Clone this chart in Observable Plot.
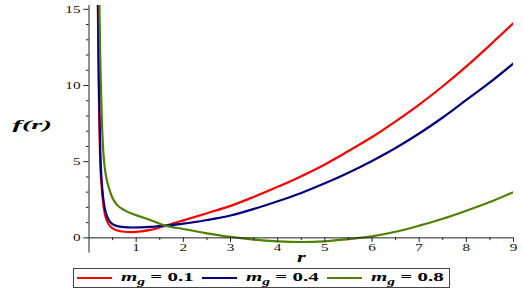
<!DOCTYPE html>
<html><head><meta charset="utf-8">
<script src="https://cdn.jsdelivr.net/npm/d3@7"></script>
<script src="https://cdn.jsdelivr.net/npm/@observablehq/plot@0.6"></script>
<style>
body{margin:0;background:#fff;}
#wrap{position:relative;width:523px;height:294px;overflow:hidden;}
#wrap svg{display:block;}
#legend{position:absolute;left:73px;top:268px;width:375px;height:18px;border:1px solid #444;box-sizing:content-box;background:#fff;}
.item{position:absolute;top:0;height:18px;}
.sw{position:absolute;top:8px;width:35px;height:2px;}
.lab{position:absolute;top:0px;font-family:"Liberation Serif",serif;font-weight:bold;font-size:13.5px;line-height:16px;white-space:nowrap;transform:scaleX(1.55);transform-origin:left center;}
.lab sub{font-size:10px;vertical-align:-4px;line-height:0;}
</style></head><body><div id="wrap"></div>
<script>
const rVals  = [0.17, 0.19, 0.21, 0.24, 0.27, 0.3, 0.33, 0.37, 0.42, 0.5, 0.6, 0.75, 0.9, 1.1, 1.3, 1.6, 2, 2.5, 3, 3.5, 4, 4.5, 5, 5.5, 6, 6.5, 7, 7.5, 8, 8.5, 9];
const fRed   = [20, 14.5, 9.2, 4.8, 3.3, 2.3, 1.65, 1.2, 0.88, 0.62, 0.48, 0.4, 0.38, 0.42, 0.52, 0.78, 1.15, 1.62, 2.1, 2.7, 3.35, 4.05, 4.82, 5.7, 6.62, 7.65, 8.75, 9.95, 11.25, 12.65, 14.1];
const fBlue  = [21, 15.5, 10.2, 5.6, 3.7, 2.65, 2.0, 1.52, 1.17, 0.9, 0.77, 0.7, 0.68, 0.69, 0.72, 0.8, 0.93, 1.17, 1.47, 1.9, 2.4, 2.95, 3.58, 4.28, 5.05, 5.9, 6.85, 7.9, 9.05, 10.2, 11.45];
const fGreen = [30, 22, 17.5, 11.5, 8.0, 5.8, 4.7, 3.9, 3.3, 2.6, 2.15, 1.82, 1.6, 1.38, 1.17, 0.82, 0.58, 0.3, 0.06, -0.12, -0.23, -0.27, -0.23, -0.08, 0.1, 0.4, 0.8, 1.25, 1.78, 2.35, 3.0];
const seriesNames  = ["0.1", "0.4", "0.8"];
const seriesColors = ["#ff0000", "#00007f", "#4f8000"];
const yMajor = [0, 5, 10, 15];
const yMinor = [1, 2, 3, 4, 6, 7, 8, 9, 11, 12, 13, 14];
const xMajor = [1, 2, 3, 4, 5, 6, 7, 8, 9];
const xMinor = [0.5, 1.5, 2.5, 3.5, 4.5, 5.5, 6.5, 7.5, 8.5];
const xLabel = "r";
const yLabel = "f(r)";

const seriesValues = [fRed, fBlue, fGreen];
const data = [];
seriesNames.forEach((s, k) => rVals.forEach((r, i) => data.push({r, f: seriesValues[k][i], s})));

const serif = "'Liberation Serif', 'Times New Roman', serif";
const axisColor = "#222";

const chart = Plot.plot({
  width: 523,
  height: 266,
  marginLeft: 88.5,
  marginRight: 10,
  marginTop: 5,
  marginBottom: 13.4,
  x: {domain: [0, 9], axis: null},
  y: {domain: [-1, 15.25], axis: null},
  color: {domain: seriesNames, range: seriesColors},
  style: {background: "white", fontFamily: serif},
  marks: [
    Plot.line(data, {x: "r", y: "f", z: "s", stroke: "s", strokeWidth: 2.2, curve: "monotone-x", clip: true}),
    Plot.ruleX([0], {stroke: axisColor, strokeWidth: 1}),
    Plot.ruleY([0], {stroke: axisColor, strokeWidth: 1}),
    Plot.ruleY(yMajor, {y: d => d, x1: 0, x2: -0.11, stroke: axisColor}),
    Plot.ruleY(yMinor, {y: d => d, x1: 0, x2: -0.055, stroke: axisColor}),
    Plot.ruleX(xMajor, {x: d => d, y1: 0, y2: -0.3, stroke: axisColor}),
    Plot.ruleX(xMinor, {x: d => d, y1: 0, y2: -0.18, stroke: axisColor}),
    Plot.text(yMajor, {x: 0, y: d => d, text: d => String(d), textAnchor: "end", dx: -8.5, fontSize: 10.5, fill: "#111", fontFamily: serif}),
    Plot.text(xMajor, {x: d => d, y: 0, text: d => String(d), dy: 10, fontSize: 10.5, fill: "#111", fontFamily: serif}),
    Plot.text([yLabel], {frameAnchor: "left", text: d => d, textAnchor: "start", dx: -76.5, dy: -5, fontSize: 13.5, fontWeight: "bold", fontStyle: "italic", fill: "#000", fontFamily: serif}),
    Plot.text([xLabel], {frameAnchor: "bottom", text: d => d, dy: 8.5, fontSize: 14, fontWeight: "bold", fontStyle: "italic", fill: "#000", fontFamily: serif})
  ]
});

// horizontal stretch of text (glyphs are wide in the reference); scale about each text's anchor
d3.select(chart).selectAll("text").each(function() {
  const t = this.textContent;
  const s = t === yLabel ? 2.1 : t === xLabel ? 1.6 : 1.45;
  const T = this.getAttribute("transform") || "";
  this.setAttribute("transform", `${T} scale(${s},1)`);
});

const wrap = document.getElementById("wrap");
wrap.appendChild(chart);

const legend = document.createElement("div");
legend.id = "legend";
seriesNames.forEach((s, k) => {
  const item = document.createElement("div");
  item.className = "item";
  item.style.left = (3 + k * 125) + "px";
  const sw = document.createElement("div");
  sw.className = "sw";
  sw.style.left = "0px";
  sw.style.background = seriesColors[k];
  const lab = document.createElement("span");
  lab.className = "lab";
  lab.style.left = "44px";
  lab.innerHTML = `<i>m</i><sub><i>g</i></sub> = ${s}`;
  item.appendChild(sw);
  item.appendChild(lab);
  legend.appendChild(item);
});
wrap.appendChild(legend);
</script>
</body></html>
